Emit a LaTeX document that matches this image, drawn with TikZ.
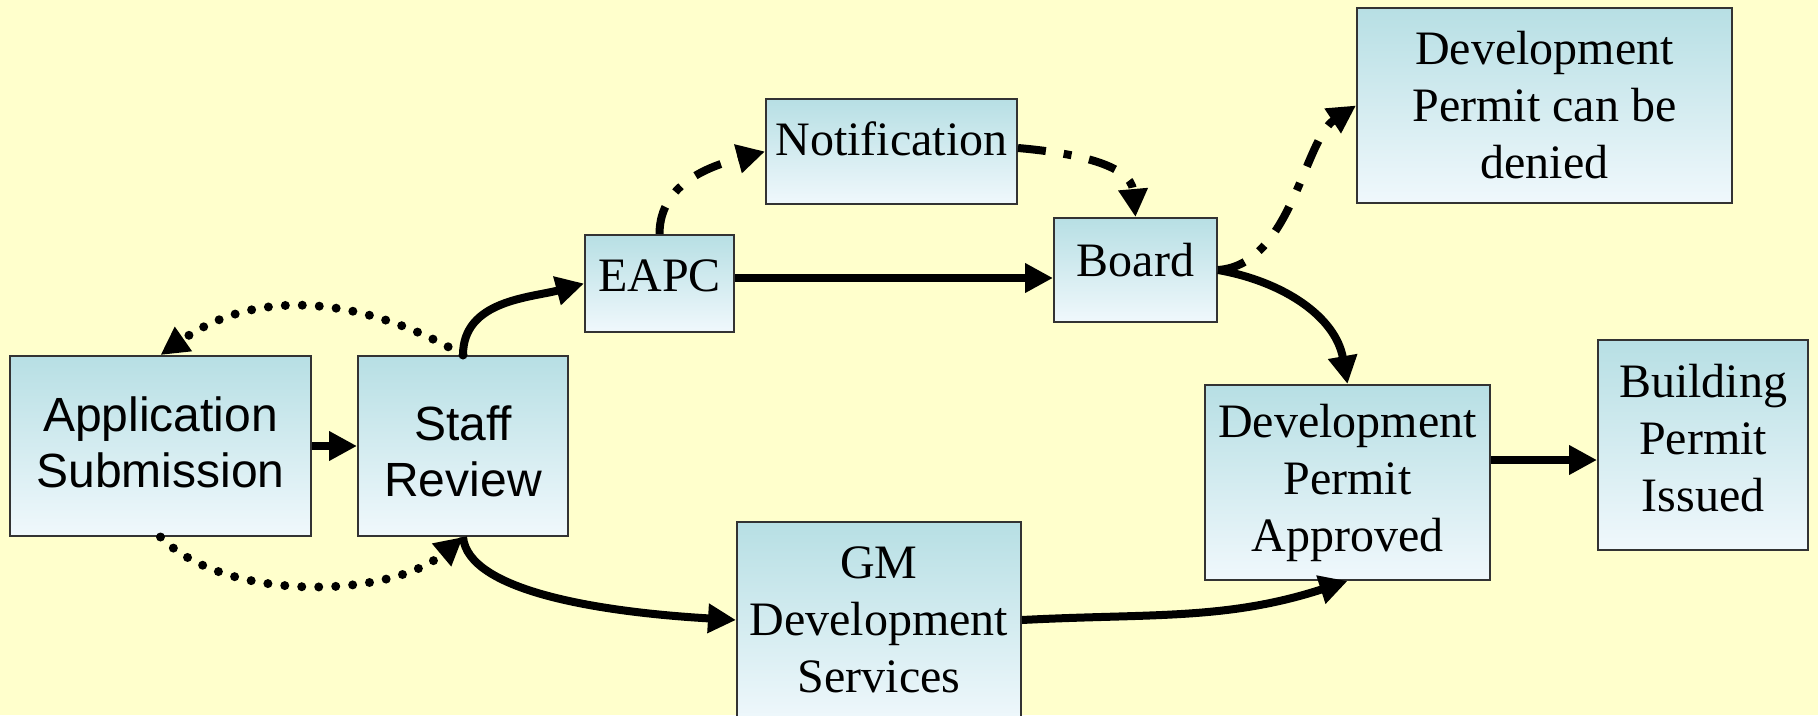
\documentclass[tikz,border=0pt]{standalone}
\usepackage{fontspec}
\setmainfont{Liberation Serif}
\newfontfamily\sansfont{Liberation Sans}
\usetikzlibrary{arrows.meta}
\definecolor{bg}{HTML}{FFFFCC}
\definecolor{boxtop}{HTML}{B7DFE4}
\definecolor{boxbot}{HTML}{F0F8FC}
\begin{document}
\begin{tikzpicture}[x=1pt,y=1pt,
  box/.style={rectangle, draw=black!80, line width=2pt, top color=boxtop, bottom color=boxbot, inner sep=0pt},
  serif/.style={font=\fontsize{48}{57}\selectfont, align=center, inner sep=0pt},
  sans/.style={font=\sansfont\fontsize{48}{56}\selectfont, align=center, inner sep=0pt},
  flow/.style={line width=8pt, -{Triangle[length=28pt,width=28pt]}},
  dots/.style={flow, line cap=round, line width=9pt, dash pattern=on 0pt off 17pt},
  dashdot/.style={flow, dash pattern=on 28pt off 18pt on 8pt off 18pt},
]
% page and background
\useasboundingbox (0,0) rectangle (1818,-715);
\fill[bg] (0,0) rectangle (1818,-715);
\clip (0,0) rectangle (1818,-715);

% boxes
\node[box, minimum width=301pt, minimum height=180pt] (app) at (160.5,-446) {};
\node[sans] (app-t) at ([yshift=4pt]app.center) {Application\\Submission};

\node[box, minimum width=210pt, minimum height=180pt] (staff) at (463,-446) {};
\node[sans] (staff-t) at ([yshift=-5pt]staff.center) {Staff\\Review};

\node[box, minimum width=149pt, minimum height=97pt] (eapc) at (659.5,-283.5) {};
\node[serif] (eapc-t) at ([yshift=7.5pt]eapc.center) {EAPC};

\node[box, minimum width=251pt, minimum height=105pt] (notif) at (891.5,-151.5) {};
\node[serif] (notif-t) at ([yshift=12.5pt]notif.center) {Notification};

\node[box, minimum width=163pt, minimum height=104pt] (board) at (1135.5,-270) {};
\node[serif] (board-t) at ([yshift=10pt]board.center) {Board};

\node[box, minimum width=375pt, minimum height=195pt] (denied) at (1544.5,-105.5) {};
\node[serif] (denied-t) at (denied.center) {Development\\Permit can be\\denied};

\node[box, minimum width=285pt, minimum height=195pt] (approved) at (1347.5,-482.5) {};
\node[serif] (approved-t) at (approved.center) {Development\\Permit\\Approved};

\node[box, minimum width=210pt, minimum height=210pt] (building) at (1703,-445) {};
\node[serif] (building-t) at ([yshift=7pt]building.center) {Building\\Permit\\Issued};

\node[box, minimum width=284pt, minimum height=203pt] (gm) at (879,-623.5) {};
\node[serif] (gm-t) at ([yshift=3.5pt]gm.center) {GM\\Development\\Services};

% connectors
\draw[flow] (app) -- (staff);
\draw[flow] (staff.north) to[out=90,in=195] (eapc.west);
\draw[dots] (staff.north) to[out=150,in=35] (app.north);
\draw[dots] (app.south) to[out=-45,in=-140,looseness=0.8] (staff.south);
\draw[flow] ([yshift=3.5pt]gm.west) coordinate (gw)
  (staff.south) .. controls +(5,-54) and +(-137,8) .. (gw);
\draw[flow] ([yshift=5.5pt]eapc.east) coordinate (ea) -- (ea -| board.west);
\draw[dashdot] (eapc.north) to[out=90,in=195] (notif.west);
\draw[dashdot] ([yshift=3.5pt]notif.east) to[out=-5,in=95] (board.north);
\draw[dashdot] (board.east) .. controls +(73,5) and +(-52,-34.5) .. (denied.west);
\draw[flow] (board.east) to[out=-10,in=100] (approved.north);
\draw[flow] ([yshift=3.5pt]gm.east) coordinate (ge) to[out=3,in=198] (approved.south);
\draw[flow] ([yshift=22.5pt]approved.east) coordinate (ap) -- (ap -| building.west);
\end{tikzpicture}
\end{document}
